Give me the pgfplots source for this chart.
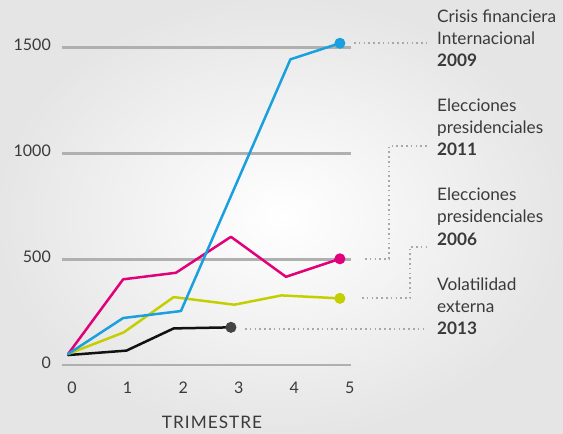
\documentclass[border=0pt]{standalone}
\usepackage{fontspec}
\setmainfont{Lato}
\usepackage{pgfplots}
\pgfplotsset{compat=1.18}
\definecolor{cblue}{HTML}{1AA0DE}
\definecolor{cmag}{HTML}{E2007A}
\definecolor{clime}{HTML}{C4CF00}
\definecolor{cblack}{HTML}{111111}
\definecolor{cmark}{HTML}{444444}
\definecolor{gridgray}{HTML}{B0B0B0}
\definecolor{txt}{HTML}{3A3A3A}
\definecolor{dotgray}{HTML}{A8A8A8}
\newcommand{\lblfont}{\fontsize{16}{16}\selectfont}
\newcommand{\sidefont}{\fontsize{17.2}{17.2}\selectfont}
\begin{document}
\begin{tikzpicture}[x=1pt,y=1pt]
\shade[inner color=white, outer color=black!10] (0,0) rectangle (563,434);
\begin{axis}[
  at={(62pt,69pt)}, anchor=south west,
  scale only axis, width=289pt, height=317.3pt,
  xmin=-0.18, xmax=5.02, ymin=0, ymax=1500,
  clip=false,
  axis line style={draw=none},
  major tick length=0pt,
  xtick={0,1,2,3,4,5},
  ytick={0,500,1000,1500},
  ymajorgrids,
  grid style={color=gridgray, line width=2.6pt},
  /pgf/number format/assume math mode=true,
  /pgf/number format/1000 sep={},
  scaled y ticks=false,
  tick label style={font=\lblfont, text=txt},
  xticklabel style={anchor=base, yshift=-29pt},
  yticklabel style={anchor=east, inner sep=0pt, xshift=-11pt, yshift=2.5pt},
  every axis plot/.append style={line width=2.5pt, line join=round, line cap=round},
]
\addplot[cblack, mark=*, mark indices={4}, mark size=5pt, mark options={fill=cmark, draw=cmark, line width=1pt}] coordinates {
  (-0.07,47) (0.98,68) (1.83,173) (2.86,178)
};
\addplot[clime, mark=*, mark indices={6}, mark size=5pt, mark options={fill=clime, draw=clime, line width=1pt}] coordinates {
  (-0.07,52) (0.93,154) (1.83,321) (2.92,285) (3.77,329) (4.82,315)
};
\addplot[cmag, mark=*, mark indices={6}, mark size=5pt, mark options={fill=cmag, draw=cmag, line width=1pt}] coordinates {
  (-0.07,52) (0.92,405) (1.87,436) (2.86,606) (3.85,417) (4.82,502)
};
\addplot[cblue, mark=*, mark indices={5}, mark size=5pt, mark options={fill=cblue, draw=cblue, line width=1pt}] coordinates {
  (-0.07,52) (0.92,222) (1.96,255) (3.93,1445) (4.82,1521)
};
\end{axis}
% leader lines
\begin{scope}[dotgray, line width=1.8pt, dash pattern=on 1.6pt off 3.2pt]
\draw (354,391.3) -- (427,391.3);
\draw (365,175.3) -- (389,175.3) -- (389,288) -- (427,288);
\draw (362,135.7) -- (410,135.7) -- (410,187.3) -- (427,187.3);
\draw (245,104.7) -- (423,104.7);
\end{scope}
% labels
\begin{scope}[every node/.style={anchor=base west, inner sep=0pt, text=txt, font=\sidefont}]
\node at (437,411.3) {Crisis financiera};
\node at (437,389) {Internacional};
\node at (437,367) {\bfseries 2009};
\node at (437,322) {Elecciones};
\node at (437,300) {presidenciales};
\node at (437,278) {\bfseries 2011};
\node at (437,233) {Elecciones};
\node at (437,211) {presidenciales};
\node at (437,188.3) {\bfseries 2006};
\node at (437,143.3) {Volatilidad};
\node at (437,121.5) {externa};
\node at (437,99) {\bfseries 2013};
\end{scope}
\node[anchor=base, inner sep=0pt, text=txt, font=\sidefont\addfontfeature{LetterSpace=6}] at (212,5) {TRIMESTRE};
\end{tikzpicture}
\end{document}
